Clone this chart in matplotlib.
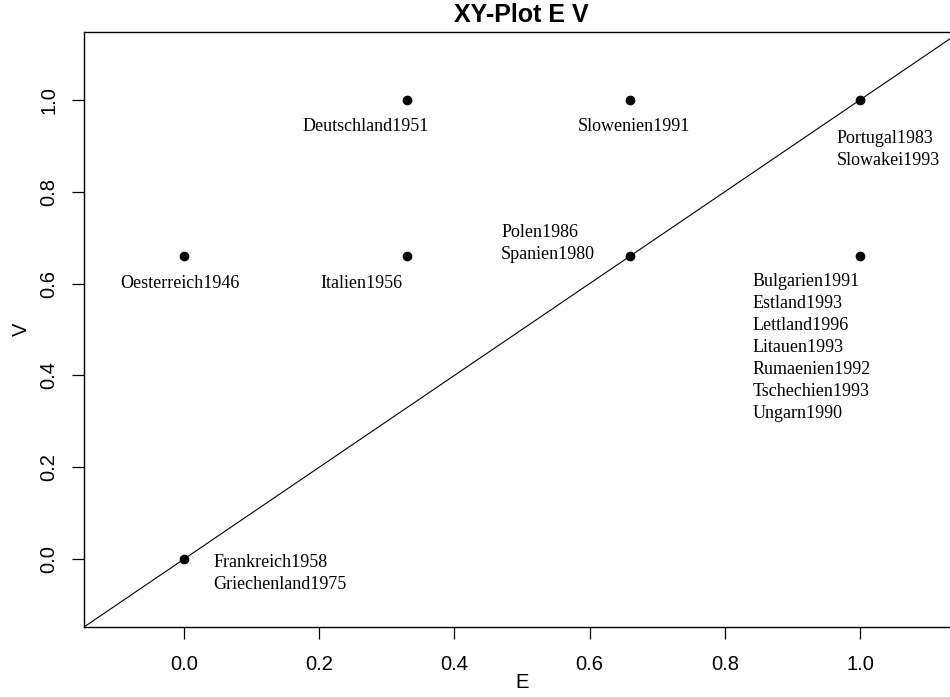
"""XY-Plot E V: scatter of country codes with identity line."""
import matplotlib

matplotlib.use("Agg")
import matplotlib.pyplot as plt

# point coordinates
E = [0.0, 0.33, 0.66, 1.0, 0.0, 0.33, 0.66, 1.0]
V = [0.0, 1.0, 1.0, 1.0, 0.66, 0.66, 0.66, 0.66]

# labels attached to each point (one entry per text line)
LABELS = [
    ["Frankreich1958", "Griechenland1975"],
    ["Deutschland1951"],
    ["Slowenien1991"],
    ["Portugal1983", "Slowakei1993"],
    ["Oesterreich1946"],
    ["Italien1956"],
    ["Polen1986", "Spanien1980"],
    ["Bulgarien1991", "Estland1993", "Lettland1996", "Litauen1993",
     "Rumaenien1992", "Tschechien1993", "Ungarn1990"],
]

# label placement: (dx of left edge, dy of first line centre) in pixels, y down
OFFSETS = [(29, 3), (-105, 27), (-52, 27), (-23, 39),
           (-64, 27), (-87, 27), (-129, -24), (-107, 25)]

TICKS = [0.0, 0.2, 0.4, 0.6, 0.8, 1.0]
LIM = (-0.148, 1.148)
LINE_STEP = 22

fig = plt.figure(figsize=(9.5, 6.97), dpi=100)
ax = fig.add_axes([84 / 950, 70 / 697, 876 / 950, 595 / 697])

ax.axline((0, 0), slope=1, color="black", lw=0.8)
ax.plot(E, V, "o", color="black", ms=6)

for x, y, lines, (dx, dy) in zip(E, V, LABELS, OFFSETS):
    for i, txt in enumerate(lines):
        ax.annotate(txt, (x, y), xytext=(dx, -(dy + i * LINE_STEP)),
                    textcoords="offset pixels", ha="left", va="center",
                    fontsize=13, family="Liberation Serif")

ax.set_xlim(LIM)
ax.set_ylim(LIM)
ax.set_xticks(TICKS)
ax.set_yticks(TICKS)
ax.set_xticklabels([f"{t:.1f}" for t in TICKS])
ax.set_yticklabels([f"{t:.1f}" for t in TICKS], rotation=90, va="center")
ax.tick_params(length=8.5, width=0.9, labelsize=14.5)
ax.tick_params(axis="x", pad=12)
ax.tick_params(axis="y", pad=10)
for lab in ax.get_xticklabels() + ax.get_yticklabels():
    lab.set_family("Liberation Sans")
for s in ax.spines.values():
    s.set_linewidth(1.0)

ax.set_xlabel("E", fontsize=14.5, family="Liberation Sans", labelpad=-1)
ax.set_ylabel("V", fontsize=14.5, family="Liberation Sans", labelpad=6)
fig.text(521 / 950, 1 - 15 / 697, "XY-Plot E V", ha="center", va="center",
         fontsize=18, fontweight="bold", family="Liberation Sans")

fig.savefig("out.png", dpi=100)
plt.close(fig)
